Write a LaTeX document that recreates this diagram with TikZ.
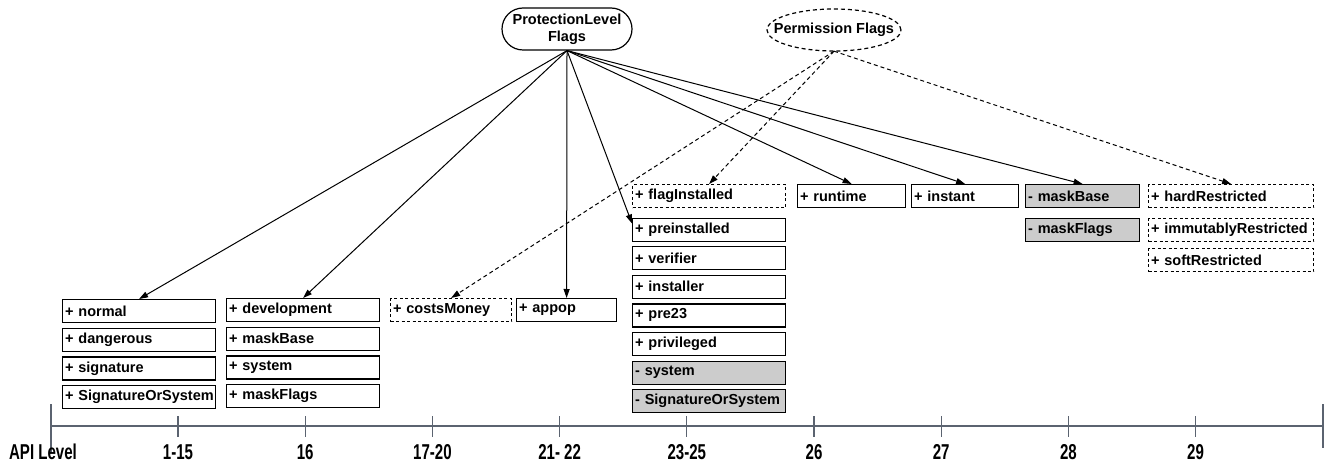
\documentclass[tikz,border=0pt]{standalone}
\usepackage{fontspec}
\setmainfont{Liberation Sans}
\usetikzlibrary{arrows.meta,shapes.misc,calc}
\definecolor{cellgray}{HTML}{CCCCCC}
\definecolor{axisgray}{HTML}{5B6370}
\newcommand\boxfont{\fontsize{14.5pt}{17pt}\selectfont\bfseries\hbadness=10000\hfuzz=20pt}
\newcommand\axlabel[1]{\scalebox{0.7}[1]{\fontsize{21.5pt}{22pt}\selectfont\bfseries #1}}
\tikzset{
  cell/.style={draw=black, line width=1.2pt, fill=white, anchor=north west,
    inner xsep=2.5pt, inner ysep=0pt, minimum height=23pt, align=left, font=\boxfont},
  shaded/.style={cell, fill=cellgray},
  dcell/.style={cell, dash pattern=on 3pt off 2.5pt},
  link/.style={-{Triangle[length=9pt,width=6pt]}, line width=1pt},
  dlink/.style={link, dash pattern=on 4pt off 3pt},
  axisline/.style={axisgray, line width=1.3pt},
  axislabel/.style={inner sep=0pt, anchor=center}
}
\begin{document}
\begin{tikzpicture}[x=1pt, y=-1pt]
\useasboundingbox (0,0) rectangle (1332,465);

% flag groups
\node[draw, rounded rectangle, line width=1.2pt, minimum width=130pt, minimum height=42pt,
      inner sep=0pt, align=center, font=\boxfont] (plf) at (567,29) {ProtectionLevel\\Flags};
\node[minimum width=134pt, minimum height=42pt, inner sep=0pt, font=\boxfont]
      (pf) at (834,30) {Permission Flags};
\draw[dash pattern=on 4pt off 3pt, line width=1.2pt] (pf.center) ellipse [x radius=67pt, y radius=21pt];

% API 1-15
\node[cell, text width=148pt] (normal) at (62,299) {+ normal};
\node[cell, text width=148pt] (dangerous) at (62,327.7) {+ dangerous};
\node[cell, text width=148pt] (signature) at (62,356.3) {+ signature};
\node[cell, text width=148pt] (sigsys) at (62,385) {\mbox{+ SignatureOrSystem}};

% API 16
\node[cell, text width=148pt] (development) at (226,298) {+ development};
\node[cell, text width=148pt] (maskbase16) at (226,326.7) {+ maskBase};
\node[cell, text width=148pt] (system16) at (226,355.3) {+ system};
\node[cell, text width=148pt] (maskflags16) at (226,384) {+ maskFlags};

% API 17-20 and 21-22
\node[dcell, text width=116pt] (costs) at (390,298) {+ costsMoney};
\node[cell, text width=95pt] (appop) at (516,298) {+ appop};

% API 23-25
\node[dcell, text width=148pt] (flaginst) at (632,184) {+ flagInstalled};
\node[cell, text width=148pt] (preinst) at (632,217.5) {+ preinstalled};
\node[cell, text width=148pt] (verifier) at (632,246.1) {+ verifier};
\node[cell, text width=148pt] (installer) at (632,274.7) {+ installer};
\node[cell, text width=148pt] (pre23) at (632,303.3) {+ pre23};
\node[cell, text width=148pt] (privileged) at (632,331.9) {+ privileged};
\node[shaded, text width=148pt] (nosystem) at (632,360.5) {- system};
\node[shaded, text width=148pt] (nosigsys) at (632,389.1) {\mbox{- SignatureOrSystem}};

% API 26-29
\node[cell, text width=103pt] (runtime) at (797,184) {+ runtime};
\node[cell, text width=102pt] (instant) at (911,184) {+ instant};
\node[shaded, text width=109pt] (nomaskbase) at (1025,184) {- maskBase};
\node[shaded, text width=109pt] (nomaskflags) at (1025,218) {- maskFlags};
\node[dcell, text width=160pt] (hardres) at (1148,184) {+ hardRestricted};
\node[dcell, text width=160pt] (immres) at (1148,218) {\mbox{+ immutablyRestricted}};
\node[dcell, text width=160pt] (softres) at (1148,248) {+ softRestricted};

% protection level links
\draw[link] (plf.south) -- (normal.north);
\draw[link] (plf.south) -- (development.north);
\draw[link] (plf.south) -- (appop.north);
\draw[link] (plf.south) -- ($(preinst.north west)+(0,6)$);
\draw[link] (plf.south) -- (runtime.north);
\draw[link] (plf.south) -- (instant.north);
\draw[link] (plf.south) -- (nomaskbase.north);

% permission flag links
\draw[dlink] (pf.south) -- (costs.north);
\draw[dlink] (pf.south) -- (flaginst.north);
\draw[dlink] (pf.south) -- (hardres.north);

% API level axis
\coordinate (axL) at (51,426);
\coordinate (axR) at (1323,426);
\draw[axisline] (axL) -- (axR);
\draw[axisline] (51,404) -- (51,453);
\draw[axisline] (1323,404) -- (1323,448);
\node[axislabel] (apilevel) at (43,452) {\axlabel{API Level}};
\foreach \lab [count=\i from 0] in {1-15,16,17-20,21- 22,23-25,26,27,28,29} {
  \draw[axisline] ({178+127.2*\i},416) -- ({178+127.2*\i},437);
  \node[axislabel] (lab\i) at ({178+127.2*\i},452) {\axlabel{\lab}};
}
\end{tikzpicture}
\end{document}
